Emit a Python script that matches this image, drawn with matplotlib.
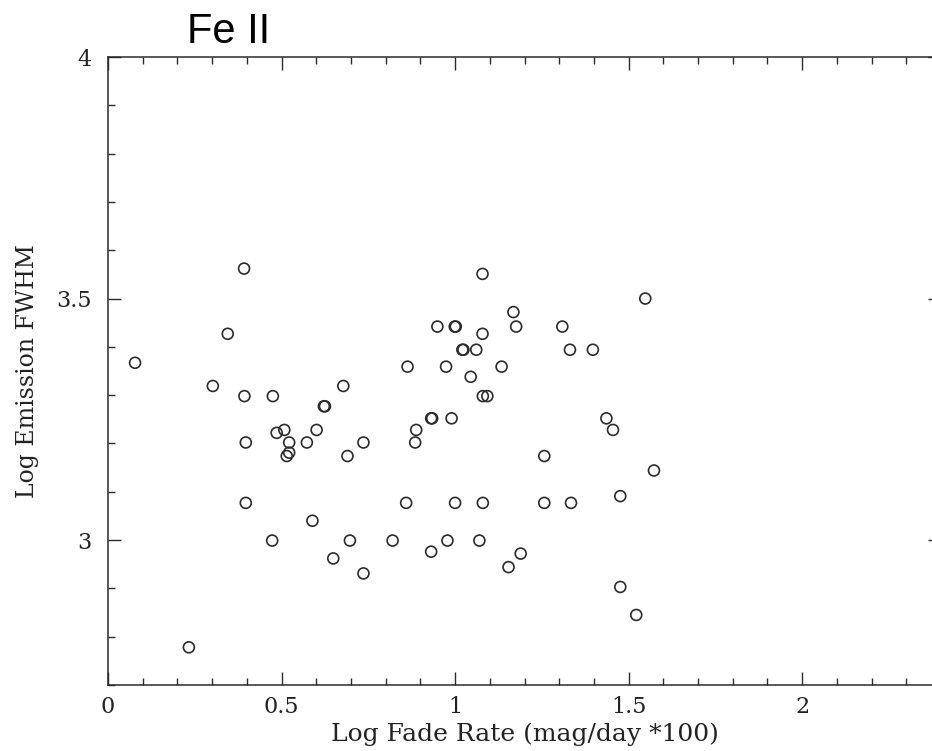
import matplotlib
matplotlib.use('Agg')
import matplotlib.pyplot as plt
from matplotlib.ticker import MultipleLocator

# Fe II: log fade rate vs log emission FWHM
fade_rate = [
    0.078, 0.233, 0.302, 0.345, 0.392, 0.393, 0.397, 0.397, 0.473, 0.475,
    0.486, 0.508, 0.515, 0.522, 0.522, 0.573, 0.589, 0.601, 0.622, 0.625,
    0.649, 0.678, 0.690, 0.697, 0.736, 0.736, 0.820, 0.859, 0.863, 0.885,
    0.888, 0.931, 0.934, 0.931, 0.949, 0.974, 0.978, 0.990, 0.999, 1.002,
    1.000, 1.021, 1.024, 1.045, 1.061, 1.070, 1.079, 1.079, 1.080, 1.080,
    1.093, 1.134, 1.154, 1.168, 1.176, 1.189, 1.257, 1.257, 1.309, 1.331,
    1.334, 1.397, 1.436, 1.455, 1.476, 1.476, 1.522, 1.548, 1.573,
]
emission_fwhm = [
    3.367, 2.778, 3.319, 3.427, 3.562, 3.298, 3.202, 3.077, 2.999, 3.298,
    3.222, 3.228, 3.174, 3.202, 3.181, 3.202, 3.040, 3.228, 3.277, 3.277,
    2.962, 3.319, 3.174, 2.999, 3.202, 2.931, 2.999, 3.077, 3.359, 3.202,
    3.228, 3.252, 3.252, 2.976, 3.442, 3.359, 2.999, 3.252, 3.442, 3.442,
    3.077, 3.394, 3.394, 3.338, 3.394, 2.999, 3.551, 3.427, 3.077, 3.298,
    3.298, 3.359, 2.944, 3.472, 3.442, 2.972, 3.174, 3.077, 3.442, 3.394,
    3.077, 3.394, 3.252, 3.228, 3.091, 2.903, 2.845, 3.500, 3.144,
]

serif = 'DejaVu Serif'
ink = '#2b2b2b'

fig = plt.figure(figsize=(9.32, 7.51), dpi=100)
# the frame runs a little past the right edge of the picture, as in the scan
ax = fig.add_axes([108 / 932, 66 / 751, 833 / 932, 628 / 751])

ax.scatter(fade_rate, emission_fwhm, s=62, facecolors='none',
           edgecolors=ink, linewidths=1.2, zorder=3)

ax.set_xlim(0, 2.4)
ax.set_ylim(2.7, 4.0)
ax.xaxis.set_minor_locator(MultipleLocator(0.1))
ax.yaxis.set_minor_locator(MultipleLocator(0.1))
ax.set_xticks([0, 0.5, 1, 1.5, 2])
ax.set_xticklabels(['0', '0.5', '1', '1.5', '2'])
ax.set_yticks([3, 3.5, 4])
ax.set_yticklabels(['3', '3.5', '4'])

ax.tick_params(which='both', direction='in', top=True, right=True,
               color=ink, width=1.0)
ax.tick_params(which='major', length=9.5)
ax.tick_params(which='minor', length=4.8)
ax.tick_params(axis='x', which='major', pad=8)
ax.tick_params(axis='y', which='major', pad=12)
for lab in ax.get_xticklabels() + ax.get_yticklabels():
    lab.set_fontfamily(serif)
    lab.set_fontsize(16)
    lab.set_color('#222222')

for sp in ax.spines.values():
    sp.set_color(ink)
    sp.set_linewidth(1.1)
ax.spines['right'].set_visible(False)

ax.set_xlabel('Log Fade Rate (mag/day *100)', fontfamily=serif,
              fontsize=18, color='#222222', labelpad=3)
ax.set_ylabel('Log Emission FWHM', fontfamily=serif, fontsize=17,
              color='#222222', labelpad=12)

fig.text(187 / 932, 1 - 43 / 751, 'Fe II', fontfamily='Liberation Sans',
         fontsize=30, ha='left', va='baseline', color='black')

fig.savefig('out.png', dpi=100)
